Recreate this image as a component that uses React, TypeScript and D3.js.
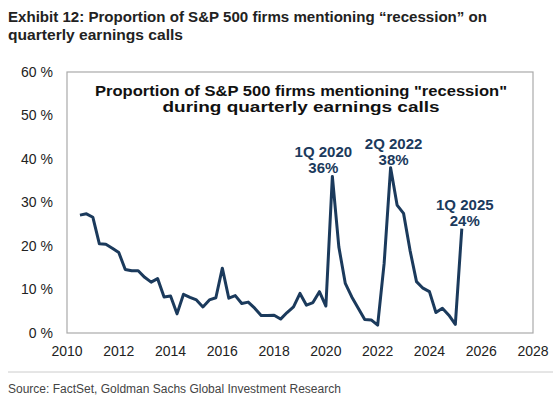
import React from 'react';
import * as d3 from 'd3';

const periods = [
  '2010Q2', '2010Q3', '2010Q4',
  '2011Q1', '2011Q2', '2011Q3', '2011Q4',
  '2012Q1', '2012Q2', '2012Q3', '2012Q4',
  '2013Q1', '2013Q2', '2013Q3', '2013Q4',
  '2014Q1', '2014Q2', '2014Q3', '2014Q4',
  '2015Q1', '2015Q2', '2015Q3', '2015Q4',
  '2016Q1', '2016Q2', '2016Q3', '2016Q4',
  '2017Q1', '2017Q2', '2017Q3', '2017Q4',
  '2018Q1', '2018Q2', '2018Q3', '2018Q4',
  '2019Q1', '2019Q2', '2019Q3', '2019Q4',
  '2020Q1', '2020Q2', '2020Q3', '2020Q4',
  '2021Q1', '2021Q2', '2021Q3', '2021Q4',
  '2022Q1', '2022Q2', '2022Q3', '2022Q4',
  '2023Q1', '2023Q2', '2023Q3', '2023Q4',
  '2024Q1', '2024Q2', '2024Q3', '2024Q4',
  '2025Q1',
];

// % of S&P 500 firms mentioning "recession"
const shares = [
  27.1, 27.4, 26.6,
  20.5, 20.4, 19.5, 18.5,
  14.6, 14.3, 14.3, 12.8,
  11.7, 12.5, 8.3, 8.5,
  4.4, 8.9, 8.2, 7.6,
  6.0, 7.6, 8.1, 14.9,
  8.0, 8.6, 6.8, 7.1,
  5.7, 4.0, 4.0, 4.1,
  3.2, 4.7, 6.0, 9.1,
  6.4, 7.0, 9.5, 6.2,
  36.0, 19.8, 11.4, 8.3,
  5.7, 3.1, 3.0, 1.8,
  16.0, 38.0, 29.4, 27.5,
  19.0, 11.8, 10.3, 9.5,
  4.7, 5.7, 4.1, 2.0,
  24.0,
];

const xTicks = [2010, 2012, 2014, 2016, 2018, 2020, 2022, 2024, 2026, 2028];
const yTicks = [0, 10, 20, 30, 40, 50, 60];

const callouts = [
  { period: '2020Q1', title: '1Q 2020', value: '36%', dx: -9 },
  { period: '2022Q2', title: '2Q 2022', value: '38%', dx: 3 },
  { period: '2025Q1', title: '1Q 2025', value: '24%', dx: 3 },
];

const navy = '#1b3a5c';
const font = '"Liberation Sans", Arial, sans-serif';

// quarter-end as decimal year
const toYear = (p: string) => +p.slice(0, 4) + +p.slice(5) / 4;

export default function App() {
  const width = 553, height = 398;
  const box = { left: 67, right: 533, top: 72, bottom: 333 };

  const x = d3.scaleLinear().domain([2010, 2028]).range([box.left, box.right]);
  const y = d3.scaleLinear().domain([0, 60]).range([box.bottom, box.top]);

  const data = periods.map((p, i) => ({ t: toYear(p), v: shares[i] }));
  const line = d3.line<{ t: number; v: number }>().x(d => x(d.t)).y(d => y(d.v));

  return (
    <svg width={width} height={height} style={{ position: 'absolute', left: 0, top: 0, background: '#fff' }} fontFamily={font}>
      <text x={8} y={22} fontSize={15} fontWeight="bold" fill="#222" textLength={479} lengthAdjust="spacingAndGlyphs">
        Exhibit 12: Proportion of S&amp;P 500 firms mentioning “recession” on
      </text>
      <text x={8} y={40} fontSize={15} fontWeight="bold" fill="#222" textLength={175} lengthAdjust="spacingAndGlyphs">
        quarterly earnings calls
      </text>

      <rect x={box.left} y={box.top} width={box.right - box.left} height={box.bottom - box.top}
        fill="none" stroke="#aaa" strokeWidth={1.2} />

      {yTicks.map(t => (
        <text key={t} x={53} y={y(t)} dy="0.35em" textAnchor="end" fontSize={14} fill="#222">{t} %</text>
      ))}
      {xTicks.map(t => (
        <text key={t} x={x(t)} y={351} dy="0.35em" textAnchor="middle" fontSize={14} fill="#222">{t}</text>
      ))}

      <text x={301} y={96} textAnchor="middle" fontSize={15} fontWeight="bold" fill="#111"
        textLength={412} lengthAdjust="spacingAndGlyphs">
        Proportion of S&amp;P 500 firms mentioning "recession"
      </text>
      <text x={301} y={112} textAnchor="middle" fontSize={15} fontWeight="bold" fill="#111"
        textLength={277} lengthAdjust="spacingAndGlyphs">
        during quarterly earnings calls
      </text>

      <path d={line(data) ?? ''} fill="none" stroke={navy} strokeWidth={3} strokeLinejoin="round" />

      {callouts.map(c => {
        const cx = x(toYear(c.period)) + c.dx;
        const cy = y(shares[periods.indexOf(c.period)]);
        return (
          <g key={c.period} fontSize={15} fontWeight="bold" fill={navy} textAnchor="middle">
            <text x={cx} y={cy - 19}>{c.title}</text>
            <text x={cx} y={cy - 3}>{c.value}</text>
          </g>
        );
      })}

      <line x1={8} x2={553} y1={372} y2={372} stroke="#ccc" strokeWidth={1} />
      <text x={8} y={393} fontSize={12} fill="#444">Source: FactSet, Goldman Sachs Global Investment Research</text>
    </svg>
  );
}
